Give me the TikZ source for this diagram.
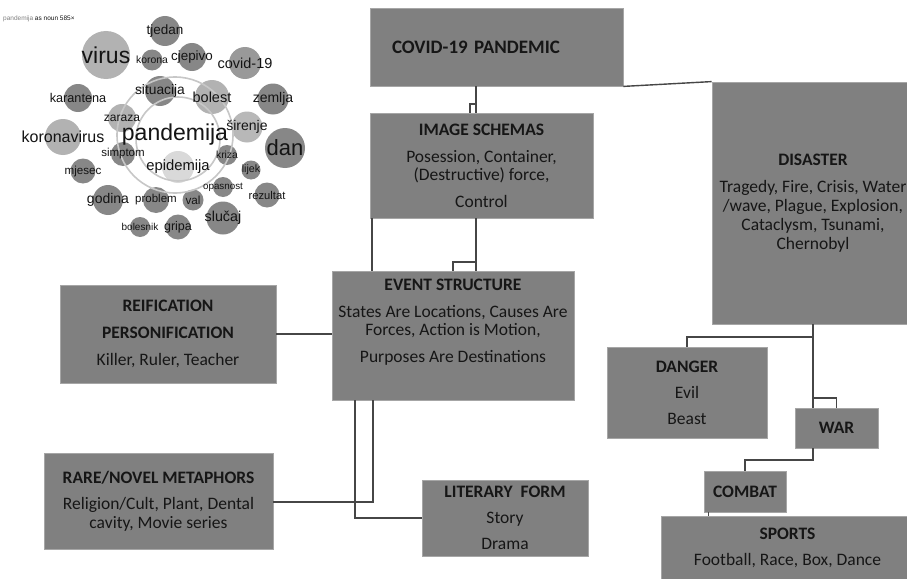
\documentclass[tikz,border=0pt]{standalone}
\usepackage{fontspec}
\setmainfont{Carlito}
\newfontfamily\cloudfont{Liberation Sans}

\definecolor{boxgray}{RGB}{128,128,128}
\definecolor{linkgray}{RGB}{70,70,70}
\definecolor{inkgray}{RGB}{22,22,22}

\tikzset{
  box/.style={draw=black!35, line width=0.8pt, fill=boxgray, text=inkgray,
    align=center, inner sep=0pt, font=\fontsize{17.5}{18}\selectfont},
  link/.style={draw=linkgray, line width=1.4pt},
  ring/.style={draw=black!22, line width=1.6pt},
  word/.style={inner sep=0pt, text=black!92}
}

% x/y/radius/font size/shade/word
\def\cloudlist{165/31/15/13.5/47/tjedan, 106/55/24/23/30/virus,
  152/60/10.5/10.4/47/korona, 192/57/14/13.4/47/cjepivo,
  245/63/16/14.5/40/covid-19, 78/98/14/12.7/47/karantena,
  160/91/15/13.8/47/situacija, 212/97/17/14.5/30/bolest,
  273/99/15.5/14/47/zemlja, 122/118/14/12/30/zaraza,
  247/127/15.5/14/28/širenje, 63/137/18/16/30/koronavirus,
  285/148/20/22/47/dan, 123/154/12/11.5/47/simptom,
  227/155/10/10.3/47/kriza, 178/167/16/14.8/15/epidemija,
  83/171/12.5/11.6/47/mjesec, 251/170/9.5/10.7/47/lijek,
  223/187/10/9.8/47/opasnost, 267/195/12.5/11.2/47/rezultat,
  108/200/15/14/47/godina, 156/200/13/11.5/47/problem,
  193/200/10.5/11.7/47/val, 223/218/16.5/14.3/47/slučaj,
  140/227/10/10/47/bolesnik, 178/227/12.5/12.5/47/gripa}

\begin{document}
\begin{tikzpicture}[x=1pt,y=-1pt]
\useasboundingbox (0,0) rectangle (907,578);
\fill[white] (0,0) rectangle (907,578);

% word cloud
\node[word, anchor=west, font=\cloudfont\fontsize{6.5}{7}\selectfont] (cloudhead) at (3,19) {\textcolor{black!50}{pandemija} as noun 585×};
\foreach \x/\y/\r/\fs/\s/\w in \cloudlist {
  \fill[black!\s] (\x,\y) circle (\r pt);
}
\draw[ring] (175,135) circle (58pt);
\draw[ring] (178,139) circle (42pt);
\foreach \x/\y/\r/\fs/\s/\w [count=\i] in \cloudlist {
  \node[word, font=\cloudfont\fontsize{\fs}{\fs}\selectfont] (word\i) at (\x,\y) {\w};
}
\node[word, font=\cloudfont\fontsize{23}{23}\selectfont] (hub) at (175,135) {pandemija};

% connectors
\coordinate (c1) at (476,104);
\coordinate (c2) at (470,104);
\coordinate (c3) at (372,240);
\coordinate (c4) at (476,262);
\coordinate (c5) at (453,262);
\coordinate (c6) at (373,502);
\coordinate (c7) at (355,518);
\coordinate (c8) at (813,337);
\coordinate (c9) at (813,398);
\coordinate (c10) at (813,460);
\coordinate (c11) at (708,514);

% boxes
\node[box, minimum width=253, minimum height=78, text width=209, align=left, font=\fontsize{19}{20}\selectfont] (covid) at (496.5,47) {\textbf{COVID-19 PANDEMIC}};
\node[box, minimum width=223, minimum height=105] (schemas) at (481.5,165.5) {\textbf{IMAGE SCHEMAS}\\[9pt] Posession, Container,\\ (Destructive) force,\\[9pt] Control};
\node[box, minimum width=202, minimum height=242] (disaster) at (813,203) {\textbf{DISASTER}\\[9pt] Tragedy, Fire, Crisis, Water\\[1pt] /wave, Plague, Explosion,\\[1pt] Cataclysm, Tsunami,\\[1pt] Chernobyl};
\node[box, minimum width=242, minimum height=129] (event) at (453,335.5) {\textbf{EVENT STRUCTURE}\\[9pt] States Are Locations, Causes Are\\ Forces, Action is Motion,\\[9pt] Purposes Are Destinations\\[12pt]\mbox{}};
\node[box, minimum width=216, minimum height=98] (reif) at (168,334) {\textbf{REIFICATION}\\[9pt] \textbf{PERSONIFICATION}\\[9pt] Killer, Ruler, Teacher};
\node[box, minimum width=229, minimum height=96] (rare) at (158.5,501) {\textbf{RARE/NOVEL METAPHORS}\\[8pt] Religion/Cult, Plant, Dental\\[1pt] cavity, Movie series};
\node[box, minimum width=166, minimum height=76] (literary) at (505,518) {\textbf{LITERARY\ \ FORM}\\[8pt] Story\\[8pt] Drama};
\node[box, minimum width=160, minimum height=91] (danger) at (687,392.5) {\textbf{DANGER}\\[8pt] Evil\\[8pt] Beast};
\node[box, minimum width=83, minimum height=40] (war) at (836.5,428) {\textbf{WAR}};
\node[box, minimum width=82, minimum height=41] (combat) at (745,491.5) {\textbf{COMBAT}};
\node[box, minimum width=253, minimum height=64] (sports) at (787.5,548) {\textbf{SPORTS}\\[8pt] Football, Race, Box, Dance};

\draw[link] (covid.south -| c1) -- (schemas.north -| c1);
\draw[link] (c1) -- (c2) -- (schemas.north -| c2);
\draw[link] (covid.south east) -- (disaster.north west);
\draw[link] (schemas.south -| c3) -- (event.north -| c3);
\draw[link] (schemas.south -| c4) -- (event.north -| c4);
\draw[link] (c4) -- (c5) -- (event.north -| c5);
\draw[link] (reif.east) -- (event.west |- reif.east);
\draw[link] (event.south -| c6) -- (c6) -- (rare.east |- c6);
\draw[link] (event.south -| c7) -- (c7) -- (literary.west |- c7);
\draw[link] (disaster.south -| c8) -- (war.north -| c8);
\draw[link] (c8) -| (danger.north);
\draw[link] (c9) -| (war.north);
\draw[link] (war.south -| c10) -- (c10) -| (combat.north);
\draw[link, line width=1pt] (combat.south -| c11) -- (sports.north -| c11);
\end{tikzpicture}
\end{document}
